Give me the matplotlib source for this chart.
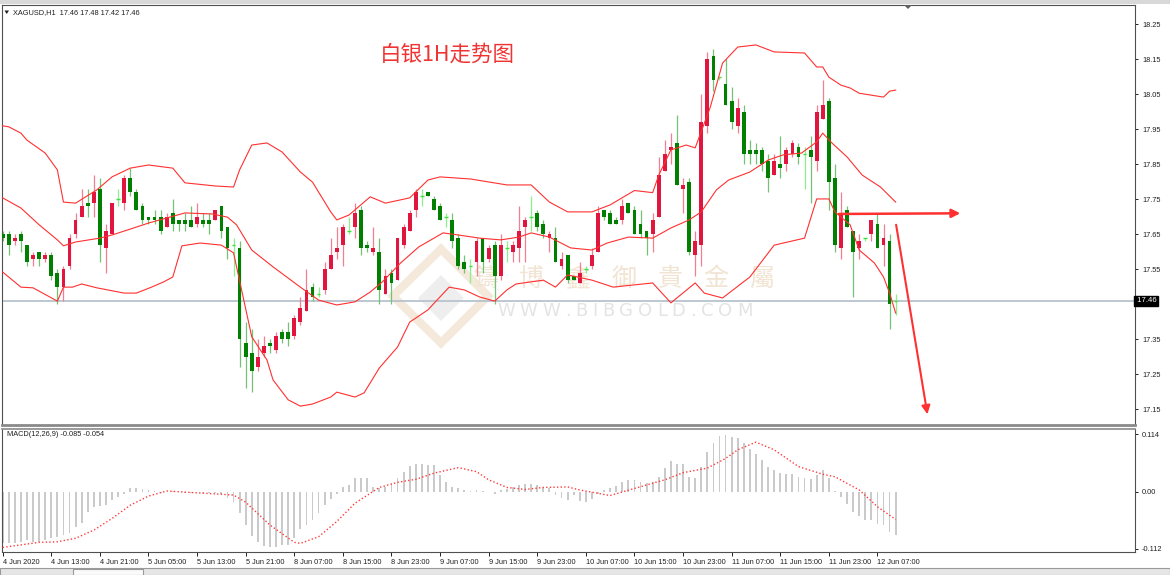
import matplotlib
matplotlib.use("Agg")
import matplotlib.pyplot as plt
from matplotlib.patches import Rectangle, Polygon
import matplotlib.transforms as mtransforms

W, H = 1170, 575

# ---- data (XAGUSD, H1) ----
header = "XAGUSD,H1  17.46 17.48 17.42 17.46"
title = "白银1H走势图"

opens = [17.65, 17.65, 17.63, 17.65, 17.62, 17.58, 17.60, 17.58, 17.59, 17.54,
         17.50, 17.56, 17.65, 17.70, 17.74, 17.74, 17.78, 17.61, 17.65, 17.75,
         17.74, 17.81, 17.77, 17.73, 17.70, 17.70, 17.70, 17.67, 17.71, 17.69,
         17.69, 17.69, 17.68, 17.69, 17.69, 17.69, 17.73, 17.67, 17.62, 17.61,
         17.34, 17.31, 17.27, 17.31, 17.34, 17.32, 17.37, 17.37, 17.36, 17.40,
         17.43, 17.50, 17.48, 17.49, 17.55, 17.60, 17.62, 17.66, 17.67, 17.72,
         17.62, 17.60, 17.60, 17.48, 17.54, 17.52, 17.62, 17.66, 17.72, 17.76,
         17.77, 17.75, 17.73, 17.70, 17.69, 17.64, 17.57, 17.56, 17.57, 17.64,
         17.58, 17.62, 17.53, 17.61, 17.60, 17.61, 17.67, 17.70, 17.71, 17.68,
         17.64, 17.64, 17.56, 17.59, 17.53, 17.51, 17.55, 17.56, 17.60, 17.72,
         17.71, 17.69, 17.69, 17.74, 17.72, 17.68, 17.66, 17.65, 17.70, 17.83,
         17.89, 17.91, 17.78, 17.80, 17.59, 17.62, 17.96, 18.16, 18.10, 18.08,
         18.03, 17.96, 18.00, 17.89, 17.89, 17.89, 17.86, 17.82, 17.85, 17.85,
         17.88, 17.90, 17.88, 17.89, 17.86, 17.98, 18.03, 17.81, 17.61, 17.72,
         17.66, 17.61, 17.64, 17.65, 17.68, 17.62, 17.63, 17.46]
highs = [17.66, 17.66, 17.65, 17.66, 17.62, 17.60, 17.60, 17.60, 17.60, 17.55,
         17.56, 17.65, 17.71, 17.78, 17.78, 17.82, 17.81, 17.68, 17.74, 17.78,
         17.82, 17.84, 17.78, 17.74, 17.70, 17.72, 17.72, 17.71, 17.75, 17.69,
         17.71, 17.73, 17.74, 17.71, 17.71, 17.72, 17.73, 17.67, 17.64, 17.63,
         17.40, 17.38, 17.35, 17.36, 17.35, 17.37, 17.38, 17.40, 17.42, 17.47,
         17.55, 17.51, 17.50, 17.57, 17.64, 17.67, 17.68, 17.70, 17.74, 17.73,
         17.63, 17.67, 17.64, 17.55, 17.55, 17.64, 17.68, 17.72, 17.78, 17.78,
         17.77, 17.76, 17.74, 17.71, 17.71, 17.65, 17.59, 17.58, 17.64, 17.64,
         17.62, 17.63, 17.65, 17.63, 17.63, 17.73, 17.70, 17.76, 17.72, 17.69,
         17.66, 17.67, 17.60, 17.59, 17.53, 17.57, 17.56, 17.61, 17.73, 17.72,
         17.72, 17.70, 17.75, 17.74, 17.73, 17.72, 17.66, 17.71, 17.87, 17.92,
         17.94, 17.99, 17.81, 17.81, 17.66, 18.05, 18.17, 18.18, 18.10, 18.15,
         18.07, 18.04, 18.02, 17.92, 17.91, 17.90, 17.88, 17.88, 17.93, 17.90,
         17.92, 17.91, 17.90, 17.93, 18.02, 18.09, 18.04, 17.85, 17.77, 17.73,
         17.66, 17.65, 17.64, 17.69, 17.71, 17.68, 17.65, 17.48]
lows = [17.63, 17.59, 17.62, 17.60, 17.56, 17.56, 17.56, 17.57, 17.52, 17.45,
        17.46, 17.55, 17.64, 17.70, 17.70, 17.70, 17.57, 17.54, 17.65, 17.73,
        17.72, 17.76, 17.72, 17.68, 17.68, 17.68, 17.65, 17.67, 17.66, 17.66,
        17.66, 17.67, 17.67, 17.67, 17.65, 17.69, 17.64, 17.58, 17.53, 17.27,
        17.21, 17.20, 17.26, 17.30, 17.31, 17.31, 17.34, 17.33, 17.35, 17.39,
        17.43, 17.46, 17.47, 17.48, 17.55, 17.58, 17.56, 17.65, 17.64, 17.59,
        17.60, 17.59, 17.45, 17.48, 17.45, 17.52, 17.61, 17.66, 17.70, 17.73,
        17.76, 17.72, 17.69, 17.67, 17.61, 17.55, 17.54, 17.51, 17.53, 17.54,
        17.57, 17.45, 17.52, 17.57, 17.57, 17.57, 17.57, 17.66, 17.66, 17.64,
        17.60, 17.57, 17.55, 17.51, 17.52, 17.51, 17.54, 17.55, 17.60, 17.69,
        17.68, 17.68, 17.68, 17.71, 17.65, 17.64, 17.59, 17.60, 17.70, 17.83,
        17.85, 17.79, 17.71, 17.59, 17.53, 17.56, 17.94, 18.06, 18.09, 18.02,
        17.95, 17.94, 17.85, 17.85, 17.85, 17.83, 17.77, 17.82, 17.81, 17.83,
        17.87, 17.85, 17.78, 17.74, 17.83, 17.98, 17.72, 17.60, 17.58, 17.67,
        17.47, 17.58, 17.63, 17.63, 17.61, 17.56, 17.38, 17.42]
closes = [17.64, 17.62, 17.64, 17.63, 17.57, 17.59, 17.58, 17.59, 17.53, 17.50,
          17.55, 17.64, 17.69, 17.73, 17.73, 17.77, 17.62, 17.66, 17.74, 17.75,
          17.81, 17.77, 17.72, 17.69, 17.69, 17.69, 17.66, 17.70, 17.68, 17.68,
          17.68, 17.67, 17.70, 17.68, 17.68, 17.72, 17.66, 17.61, 17.62, 17.35,
          17.30, 17.26, 17.30, 17.33, 17.33, 17.36, 17.35, 17.35, 17.41, 17.44,
          17.49, 17.47, 17.48, 17.55, 17.59, 17.61, 17.67, 17.66, 17.71, 17.61,
          17.61, 17.61, 17.49, 17.53, 17.51, 17.64, 17.67, 17.71, 17.77, 17.76,
          17.76, 17.72, 17.69, 17.70, 17.63, 17.56, 17.55, 17.56, 17.63, 17.57,
          17.61, 17.53, 17.62, 17.61, 17.62, 17.66, 17.69, 17.70, 17.67, 17.65,
          17.65, 17.57, 17.58, 17.52, 17.52, 17.54, 17.55, 17.59, 17.71, 17.70,
          17.68, 17.68, 17.73, 17.71, 17.65, 17.65, 17.64, 17.69, 17.82, 17.88,
          17.90, 17.79, 17.79, 17.60, 17.63, 17.97, 18.15, 18.09, 18.10, 18.02,
          17.97, 18.01, 17.88, 17.88, 17.88, 17.85, 17.81, 17.86, 17.84, 17.89,
          17.91, 17.87, 17.88, 17.87, 18.00, 18.02, 17.80, 17.62, 17.71, 17.67,
          17.60, 17.63, 17.64, 17.69, 17.61, 17.64, 17.45, 17.46]

# Bollinger bands (20,2) read at key bars
bb_up_idx = [0, 1, 3, 4, 7, 9, 10, 12, 15.5, 18, 21, 24, 28, 30, 35, 38, 39, 41, 43.5,
             46, 49, 51, 54, 55, 57, 60.5, 63, 67, 70, 72, 77, 83, 87, 90, 93, 97,
             100, 104, 107, 108, 110, 112.5, 114, 116.5, 118.5, 121, 124, 127, 132,
             134, 135, 136, 138, 139.5, 141, 145, 146, 147]
bb_up = [17.96, 17.957, 17.939, 17.919, 17.882, 17.834, 17.742, 17.739, 17.777, 17.814,
         17.839, 17.848, 17.839, 17.797, 17.788, 17.785, 17.834, 17.905, 17.911,
         17.885, 17.828, 17.799, 17.714, 17.691, 17.705, 17.757, 17.739, 17.754, 17.805,
         17.814, 17.808, 17.791, 17.791, 17.742, 17.714, 17.714,
         17.734, 17.775, 17.769, 17.819, 17.891, 17.905, 17.897, 18.014, 18.139, 18.185,
         18.191, 18.171, 18.168, 18.128, 18.128, 18.099, 18.076, 18.068, 18.053, 18.042,
         18.059, 18.062]
bb_mid_idx = [0, 3, 6, 9, 10, 12, 16, 18, 20.5, 24, 27.5, 30, 34.5, 37, 38.5, 41, 44.5,
              49, 52, 55, 58, 60.5, 62.5, 65.5, 68.5, 72.5, 75, 78.5, 82, 85, 87, 90,
              93.5, 97, 99.5, 103, 107, 110, 113, 115, 117.5, 119.5, 123, 126, 128.5,
              131.5, 134, 135, 136.5, 139, 141.5, 144.5, 147]
bb_mid = [17.754, 17.725, 17.677, 17.634, 17.617, 17.628, 17.639, 17.648, 17.662, 17.682,
          17.699, 17.711, 17.708, 17.699, 17.677, 17.605, 17.557, 17.499, 17.462, 17.448,
          17.457, 17.485, 17.514, 17.568, 17.614, 17.654, 17.648, 17.639, 17.634, 17.642,
          17.654, 17.642, 17.611, 17.605, 17.625, 17.642, 17.639, 17.668, 17.691, 17.714,
          17.777, 17.805, 17.828, 17.862, 17.877, 17.882, 17.914, 17.939, 17.911, 17.871,
          17.819, 17.785, 17.742]
bb_low_idx = [0, 3, 5, 9, 10, 11.5, 13, 15.5, 20, 22, 24.5, 26.5, 28, 29.5, 32.5, 36,
              38, 39.5, 41, 43.5, 44.5, 47, 49, 51, 54, 55, 58, 59.5, 62, 65, 67, 70,
              71.5, 73.5, 76, 78.5, 81, 83, 84.5, 89, 91, 93, 97, 100.5, 107, 110, 114,
              115.5, 118.5, 123, 127, 132, 134, 136, 137, 139.5, 141, 143.5, 145, 146,
              147]
bb_low = [17.542, 17.499, 17.497, 17.459, 17.499, 17.499, 17.508, 17.497, 17.482, 17.482,
          17.499, 17.514, 17.528, 17.617, 17.625, 17.619, 17.597, 17.477, 17.357, 17.291,
          17.234, 17.177, 17.159, 17.165, 17.185, 17.199, 17.185, 17.197, 17.268, 17.328,
          17.399, 17.434, 17.462, 17.499, 17.491, 17.471, 17.459, 17.491, 17.508, 17.519,
          17.499, 17.534, 17.519, 17.499, 17.511, 17.454, 17.511, 17.482, 17.468, 17.528,
          17.619, 17.639, 17.751, 17.751, 17.714, 17.677, 17.605, 17.568, 17.528, 17.482,
          17.425]

# MACD(12,26,9): main line (histogram) and signal line
macd_main = [-0.100, -0.101, -0.101, -0.098, -0.095, -0.098, -0.099, -0.094, -0.091, -0.089,
             -0.085, -0.081, -0.068, -0.060, -0.040, -0.029, -0.027, -0.025, -0.016, -0.009,
             -0.003, 0.007, 0.008, 0.006, 0.003, 0.001, -0.001, 0.000, 0.001, 0.000,
             -0.001, -0.001, 0.000, -0.001, -0.002, -0.001, -0.004, -0.012, -0.020, -0.042,
             -0.064, -0.086, -0.098, -0.106, -0.109, -0.108, -0.105, -0.104, -0.090, -0.072,
             -0.065, -0.055, -0.042, -0.026, -0.013, -0.003, 0.010, 0.014, 0.027, 0.027,
             0.027, 0.010, 0.007, 0.010, 0.017, 0.027, 0.040, 0.052, 0.056, 0.056,
             0.054, 0.053, 0.033, 0.020, 0.010, 0.007, 0.004, 0.001, 0.004, 0.002,
             0.000, -0.003, 0.003, 0.006, 0.010, 0.013, 0.015, 0.016, 0.014, 0.008,
             0.007, -0.006, -0.012, -0.016, -0.006, -0.018, -0.019, -0.014, -0.003, 0.004,
             0.007, 0.012, 0.020, 0.024, 0.024, 0.020, 0.017, 0.020, 0.030, 0.047,
             0.060, 0.056, 0.056, 0.030, 0.028, 0.050, 0.079, 0.096, 0.111, 0.112,
             0.109, 0.107, 0.096, 0.084, 0.074, 0.063, 0.050, 0.043, 0.037, 0.035,
             0.035, 0.030, 0.028, 0.026, 0.033, 0.043, 0.028, 0.002, -0.009, -0.024,
             -0.040, -0.048, -0.055, -0.055, -0.062, -0.064, -0.079, -0.085]
sig_idx = [0, 3, 6, 9, 12, 15, 18, 21, 24, 27, 31, 34, 38, 40, 44, 48, 49, 52, 55, 58,
           62, 65, 68, 71, 75, 78, 80, 83, 86, 89, 93, 95, 100, 104, 109, 112, 116, 119,
           121, 124, 127, 131, 135, 137, 141, 144, 147]
macd_sig = [-0.109, -0.104, -0.099, -0.098, -0.091, -0.075, -0.052, -0.026, -0.008, 0.002,
            -0.001, -0.003, -0.006, -0.020, -0.065, -0.099, -0.101, -0.088, -0.058, -0.022,
            0.009, 0.019, 0.025, 0.037, 0.048, 0.040, 0.024, 0.009, 0.005, 0.009,
            0.010, 0.004, -0.007, 0.007, 0.024, 0.038, 0.047, 0.066, 0.083, 0.098,
            0.083, 0.050, 0.035, 0.030, 0.004, -0.029, -0.054]

time_labels = ["4 Jun 2020", "4 Jun 13:00", "4 Jun 21:00", "5 Jun 05:00", "5 Jun 13:00",
               "5 Jun 21:00", "8 Jun 07:00", "8 Jun 15:00", "8 Jun 23:00", "9 Jun 07:00",
               "9 Jun 15:00", "9 Jun 23:00", "10 Jun 07:00", "10 Jun 15:00", "10 Jun 23:00",
               "11 Jun 07:00", "11 Jun 15:00", "11 Jun 23:00", "12 Jun 07:00"]
price_ticks = [18.25, 18.15, 18.05, 17.95, 17.85, 17.75, 17.65, 17.55, 17.45, 17.35, 17.25, 17.15]
macd_ticks = [0.114, 0.0, -0.112]
macd_tick_labels = ["0.114", "0.00", "-0.112"]
last_price = 17.46
macd_text = "MACD(12,26,9) -0.085 -0.054"
wm_chars = "鑄博鑫御貴金屬"
wm_url = "WWW.BIBGOLD.COM"

# hand-drawn arrows (bar index, price)
arrow_flat = ((137.2, 17.708), (158.1, 17.71))
arrow_down = ((147.0, 17.685), (152.3, 17.128))

# ---- figure ----
plt.rcParams['font.family'] = ['Liberation Sans', 'DejaVu Sans']
fig = plt.figure(figsize=(W / 100, H / 100), dpi=100)

def fx(px):
    return px / W

def fy(py):
    return 1 - py / H

ax = fig.add_axes([fx(2), fy(425), 1133 / W, 420 / H])
axm = fig.add_axes([fx(2), fy(552), 1133 / W, 123 / H])

n = len(opens)
xs = list(range(n))
red, red_w = '#e0163e', '#f07f92'
grn, grn_w = '#007f00', '#74c274'
doji, doji_w = '#3be23b', '#8af08a'

# watermark (behind the candles)
ax.add_patch(Polygon([[fx(393), fy(296)], [fx(441), fy(249)], [fx(488), fy(296)], [fx(441), fy(343)]],
                     closed=True, transform=fig.transFigure, fc='none', ec='#f4e9da', lw=6, zorder=0.3))
ax.add_patch(Polygon([[fx(418), fy(298)], [fx(441), fy(275)], [fx(464), fy(298)], [fx(441), fy(321)]],
                     closed=True, transform=fig.transFigure, fc='#eeeeee', ec='none', zorder=0.3))
for k, ch in enumerate(wm_chars):
    ax.text(fx(486 + 46 * k), fy(279), ch, transform=fig.transFigure, fontsize=18,
            color='#f1e4d2', ha='center', va='center', zorder=0.5,
            family=['Noto Sans CJK TC', 'DejaVu Sans'])
char_w = {'W': 0.989, '.': 0.318, 'B': 0.686, 'I': 0.295, 'G': 0.775, 'O': 0.787,
          'L': 0.557, 'D': 0.770, 'C': 0.698, 'M': 0.863}
cx = 497.0
for ch in wm_url:
    ax.text(fx(cx), fy(311), ch, transform=fig.transFigure, fontsize=13, color='#e4e4e4',
            ha='left', va='center', zorder=0.5, family='DejaVu Sans')
    cx += char_w[ch] * 18.06 + 4.7

# bid line
ax.axhline(last_price, color='#b7c3cf', lw=1.3, zorder=1)

for i in xs:
    o, h, l, c = opens[i], highs[i], lows[i], closes[i]
    if c > o:
        bc, wc = red, red_w
    elif c < o:
        bc, wc = grn, grn_w
    else:
        bc, wc = doji, doji_w
    ax.vlines(i, l, h, color=wc, lw=0.9, zorder=2)
    if c == o:
        ax.hlines(o, i - 0.3, i + 0.3, color=bc, lw=1.0, zorder=3)
    else:
        ax.bar(i, abs(c - o), bottom=min(o, c), width=0.62, color=bc, lw=0, zorder=3)

for bx, by in ((bb_up_idx, bb_up), (bb_mid_idx, bb_mid), (bb_low_idx, bb_low)):
    ax.plot(bx, by, color='#ff3030', lw=0.8, zorder=4)

# arrows
ax.annotate('', xy=arrow_flat[1], xytext=arrow_flat[0],
            arrowprops=dict(arrowstyle='-|>,head_length=0.5,head_width=0.25',
                            color='#ff3030', lw=1.8), zorder=5)
ax.annotate('', xy=arrow_down[1], xytext=arrow_down[0],
            arrowprops=dict(arrowstyle='-|>,head_length=0.5,head_width=0.25',
                            color='#ff3030', lw=1.5), zorder=5)

ax.set_xlim(-0.115, 186.4)
ax.set_ylim(17.1051, 18.3051)
ax.set_xticks([])
ax.yaxis.tick_right()
ax.set_yticks(price_ticks)
# the 17.45 label sits under the last-price box
ax.set_yticklabels(['' if abs(p - 17.45) < 1e-9 else '%.2f' % p for p in price_ticks])
ax.tick_params(axis='y', length=2, width=0.7, pad=3, labelsize=5.3, colors='#202020')

# last price box
trans = mtransforms.blended_transform_factory(ax.transAxes, ax.transData)
ax.text(1.0, last_price, ' 17.46', transform=trans, ha='left', va='center',
        fontsize=5.6, color='white', clip_on=False, zorder=10,
        bbox=dict(boxstyle='square,pad=0.18', fc='black', ec='black'))

# MACD panel
axm.bar(xs, macd_main, width=0.3, color='#cacaca', lw=0, zorder=2)
axm.plot(sig_idx, macd_sig, color='#ff3b3b', lw=1.0, ls=(0, (1, 1.6)), zorder=3)
axm.set_xlim(-0.115, 186.4)
axm.set_ylim(-0.118, 0.1239)
axm.yaxis.tick_right()
axm.set_yticks(macd_ticks)
axm.set_yticklabels(macd_tick_labels)
axm.tick_params(axis='y', length=2, width=0.7, pad=3, labelsize=5.3, colors='#202020')
axm.set_xticks(range(0, 8 * len(time_labels), 8))
axm.set_xticklabels(time_labels, ha='left')
axm.tick_params(axis='x', length=3, width=0.7, pad=2, labelsize=5.3, colors='#202020')
axm.text(0.004, 0.955, macd_text, transform=axm.transAxes, fontsize=5.3,
         color='#202020', va='center')

for a in (ax, axm):
    for s in a.spines.values():
        s.set_color('#505050')
        s.set_linewidth(0.8)
ax.spines['bottom'].set_color('#8a8a8a')
ax.spines['bottom'].set_linewidth(2.0)
axm.spines['top'].set_color('#8a8a8a')
axm.spines['top'].set_linewidth(1.2)

# header and title
fig.text(fx(13), fy(12.5), header, fontsize=5.3, color='#202020', va='center')
fig.patches.append(Polygon([[fx(4.5), fy(10.5)], [fx(9), fy(10.5)], [fx(6.75), fy(14)]],
                           closed=True, transform=fig.transFigure, fc='#202020', ec='none'))
fig.text(fx(447), fy(55), title, fontsize=15.5, color='#f03434', ha='center', va='center',
         family=['Noto Sans CJK SC', 'DejaVu Sans'])

# chart-shift marker at top
fig.patches.append(Polygon([[fx(904), fy(5)], [fx(912), fy(5)], [fx(908), fy(9)]],
                           closed=True, transform=fig.transFigure, fc='#606060', ec='none'))
# top and bottom window strips
fig.patches.append(Rectangle((0, fy(4)), 1, 4 / H, transform=fig.transFigure,
                             fc='#d8d8d8', ec='none'))
fig.patches.append(Rectangle((0, 0), 1, 7 / H, transform=fig.transFigure,
                             fc='#e6e6e6', ec='#9a9a9a', lw=0.8))
fig.patches.append(Rectangle((fx(73), 0), 70 / W, 6 / H, transform=fig.transFigure,
                             fc='#fafafa', ec='#9a9a9a', lw=0.8))

fig.savefig('out.png', dpi=100)
